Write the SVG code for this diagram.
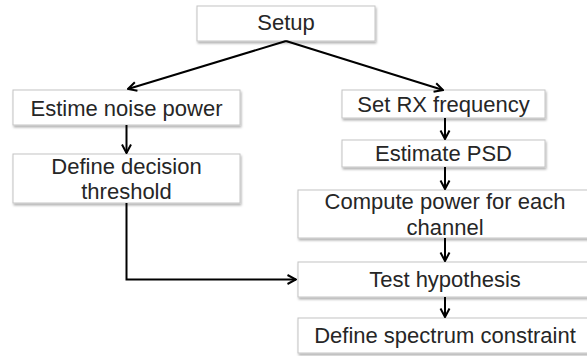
<svg xmlns="http://www.w3.org/2000/svg" width="587" height="356" viewBox="0 0 587 356">
<style>
.box{fill:#ffffff;stroke:#c4c4c4;stroke-width:1;filter:url(#sh)}
.lbl{font-family:"Liberation Sans",Arial,sans-serif;font-size:22px;fill:#262626;text-anchor:middle}
.con{fill:none;stroke:#000000;stroke-width:2;marker-end:url(#ah)}
</style>
<defs>
<filter id="sh" x="-10%" y="-20%" width="130%" height="160%">
<feDropShadow dx="1" dy="2" stdDeviation="1.2" flood-color="#000000" flood-opacity="0.3"/>
</filter>
<marker id="ah" markerUnits="userSpaceOnUse" markerWidth="12" markerHeight="12" viewBox="0 0 12 12" refX="11" refY="6" orient="auto">
<path d="M2.5,1.5 L11,6 L2.5,10.5" fill="none" stroke="#000000" stroke-width="2"/>
</marker>
</defs>
<g id="nodes">
<g id="setup"><rect class="box" x="197" y="6" width="178" height="35"/><text class="lbl" x="286" y="30">Setup</text></g>
<g id="noise"><rect class="box" x="13" y="90" width="227" height="35"/><text class="lbl" x="126.5" y="116">Estime noise power</text></g>
<g id="threshold"><rect class="box" x="13" y="154" width="227" height="49"/><text class="lbl" x="126.5" y="174">Define decision</text><text class="lbl" x="126.5" y="199">threshold</text></g>
<g id="rxfreq"><rect class="box" x="342" y="90" width="203" height="28"/><text class="lbl" x="443.5" y="112">Set RX frequency</text></g>
<g id="psd"><rect class="box" x="342" y="140" width="203" height="27"/><text class="lbl" x="443.5" y="161">Estimate PSD</text></g>
<g id="compute"><rect class="box" x="298" y="190" width="294" height="48"/><text class="lbl" x="445" y="209">Compute power for each</text><text class="lbl" x="445" y="235">channel</text></g>
<g id="test"><rect class="box" x="298" y="262" width="294" height="35"/><text class="lbl" x="445" y="287">Test hypothesis</text></g>
<g id="constraint"><rect class="box" x="298" y="318" width="294" height="35"/><text class="lbl" x="445" y="343">Define spectrum constraint</text></g>
</g>
<g id="connectors">
<path class="con" d="M286,41 L128,89"/>
<path class="con" d="M286,41 L443,90"/>
<path class="con" d="M126.5,125 L126.5,153"/>
<path class="con" d="M126.5,203 L126.5,279.5 L296,279.5"/>
<path class="con" d="M445,118 L445,139"/>
<path class="con" d="M445,167 L445,189"/>
<path class="con" d="M445,238 L445,261"/>
<path class="con" d="M445,297 L445,317"/>
</g>
</svg>
